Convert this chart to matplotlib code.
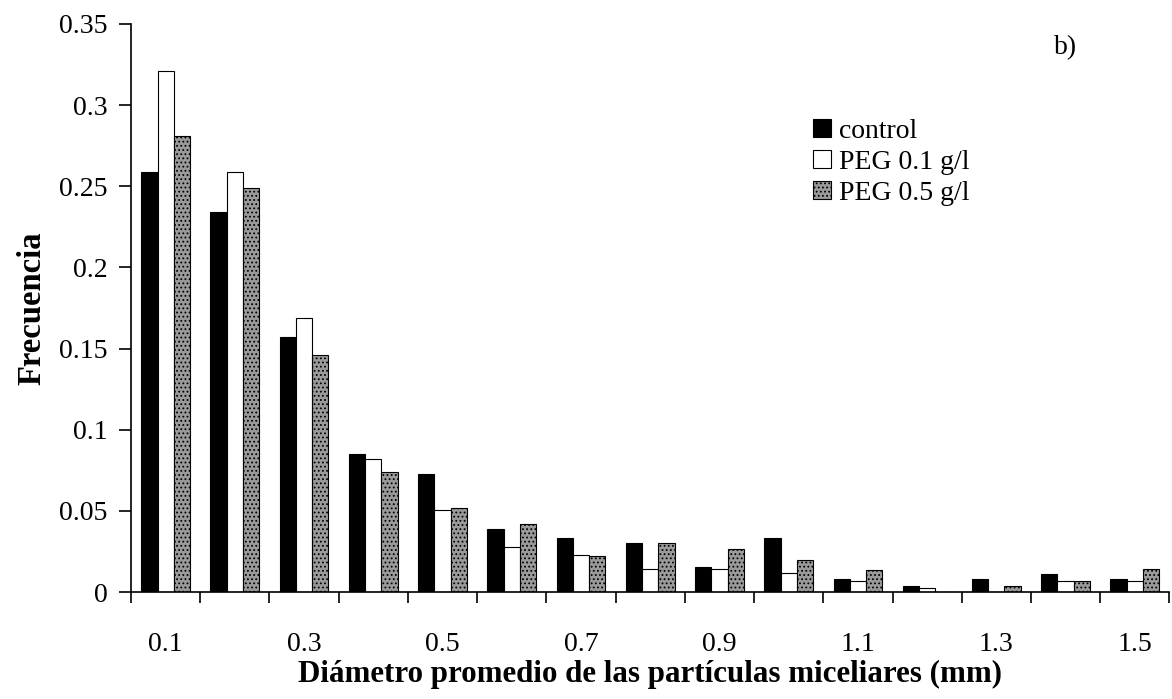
import matplotlib.pyplot as plt
import numpy as np

plt.rcParams['font.family'] = ['Liberation Serif', 'DejaVu Serif']
plt.rcParams['hatch.linewidth'] = 0.8

# particle diameter classes (mm)
categories = ['0.1', '0.2', '0.3', '0.4', '0.5', '0.6', '0.7', '0.8',
              '0.9', '1.0', '1.1', '1.2', '1.3', '1.4', '1.5']
control = [0.259, 0.234, 0.157, 0.085, 0.073, 0.039, 0.033, 0.030,
           0.0155, 0.033, 0.008, 0.0037, 0.008, 0.011, 0.008]
peg_01 = [0.321, 0.259, 0.169, 0.082, 0.0505, 0.028, 0.023, 0.014,
          0.014, 0.0117, 0.0068, 0.0025, 0.0, 0.007, 0.007]
peg_05 = [0.281, 0.249, 0.146, 0.074, 0.052, 0.042, 0.022, 0.030,
          0.0265, 0.0197, 0.0135, 0.0, 0.0037, 0.007, 0.014]

fig = plt.figure(figsize=(11.72, 6.99), dpi=100)
ax = fig.add_axes([0.1118, 0.153, 0.886, 0.8127])

x = np.arange(len(categories))
w = 0.235
ax.bar(x - w, control, w, color='black', edgecolor='black', linewidth=0.8,
       label='control')
ax.bar(x, peg_01, w, color='white', edgecolor='black', linewidth=0.8,
       label='PEG 0.1 g/l')
ax.bar(x + w, peg_05, w, color='#9a9a9a', edgecolor='black', linewidth=0.8,
       hatch='....', label='PEG 0.5 g/l')

ax.set_xlim(-0.5, len(categories) - 0.5)
ax.set_ylim(0, 0.35)

# tick marks between classes, labels on every other class
ax.set_xticks(np.arange(len(categories) + 1) - 0.5)
ax.set_xticklabels([])
ax.tick_params(axis='x', which='major', direction='out', length=8, width=1.2)
ax.set_xticks(x[::2], minor=True)
ax.set_xticklabels(categories[::2], minor=True)
ax.tick_params(axis='x', which='minor', length=0, pad=29, labelsize=20)

yt = np.arange(0, 0.351, 0.05)
ax.set_yticks(yt)
ax.set_yticklabels(['%g' % round(v, 2) for v in yt])
ax.tick_params(axis='y', direction='out', length=9, width=1.2, labelsize=20,
               pad=8)

for s in ['top', 'right']:
    ax.spines[s].set_visible(False)
ax.spines['left'].set_linewidth(1.2)
ax.spines['bottom'].set_linewidth(1.2)

ax.set_xlabel('Diámetro promedio de las partículas miceliares (mm)',
              fontsize=22.3, fontweight='bold', labelpad=2)
ax.set_ylabel('Frecuencia', fontsize=23.5, fontweight='bold', labelpad=8)

ax.legend(loc='upper left', bbox_to_anchor=(0.643, 0.858), frameon=False,
          fontsize=20, handlelength=0.65, handleheight=0.65, handletextpad=0.3,
          labelspacing=0.22, borderpad=0)

fig.text(0.899, 0.922, 'b)', fontsize=20)

fig.savefig('out.png', dpi=100)
